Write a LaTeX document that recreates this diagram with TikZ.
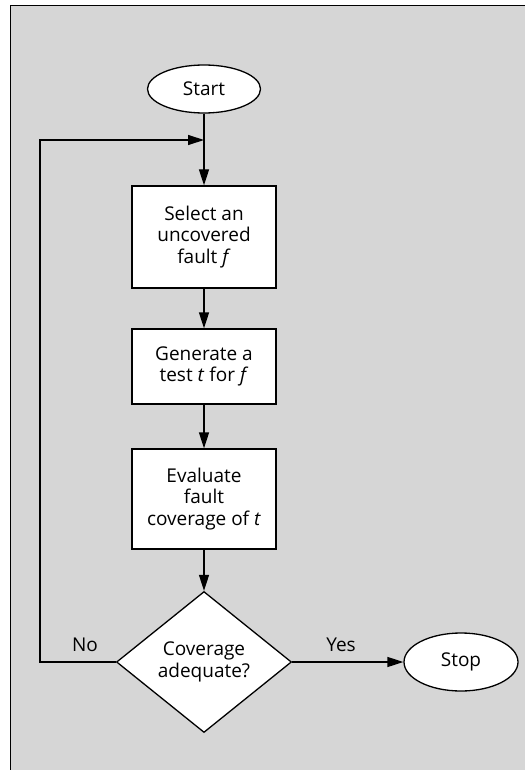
\documentclass[tikz,border=0pt]{standalone}
\usepackage{fontspec}
\setmainfont{Open Sans}
\usetikzlibrary{arrows.meta,shapes.geometric}
\definecolor{bggray}{HTML}{D6D6D6}
\begin{document}
\begin{tikzpicture}[x=1pt,y=-1pt,
  line width=1.3pt,
  txt/.style={font=\fontsize{19}{21.7}\selectfont},
  boxnode/.style={txt,draw,fill=white,rectangle,align=center,inner sep=0pt,minimum width=144pt},
  termnode/.style={txt,draw,fill=white,ellipse,inner sep=0pt},
  decnode/.style={txt,draw,fill=white,diamond,align=center,inner sep=0pt,minimum width=175pt,minimum height=141pt},
  arr/.style={-{Triangle[length=16pt,width=10pt]}},
  lbl/.style={txt}]
\useasboundingbox (0,0) rectangle (525,770);
\fill[bggray] (10,6) rectangle (525,770);
\draw[line width=1pt] (10,770) -- (10,6) -- (525,6);
\node[termnode,minimum width=113pt,minimum height=48pt] (start) at (204,89) {Start};
\node[boxnode,minimum height=102pt] (sel) at (204,237) {Select an\\uncovered\\fault \textit{f}};
\node[boxnode,minimum height=75pt] (gen) at (204,366.5) {Generate a\\test \textit{t} for \textit{f}};
\node[boxnode,minimum height=100pt] (eval) at (204,499) {Evaluate\\fault\\coverage of \textit{t}};
\node[decnode] (dec) at (204,662) {Coverage\\adequate?};
\node[termnode,minimum width=114pt,minimum height=58pt] (stop) at (461,662) {Stop};
\coordinate (j) at (204,140);
\coordinate (cb) at (40,662);
\coordinate (ct) at (40,140);
\draw[arr] (start) -- (sel);
\draw[arr] (sel) -- (gen);
\draw[arr] (gen) -- (eval);
\draw[arr] (eval) -- (dec);
\draw[arr] (dec.west) -- (cb) -- (ct) -- (j);
\draw[arr] (dec.east) -- (stop.west);
\node[lbl] (no) at (85,645) {No};
\node[lbl] (yes) at (341,645) {Yes};
\end{tikzpicture}
\end{document}
